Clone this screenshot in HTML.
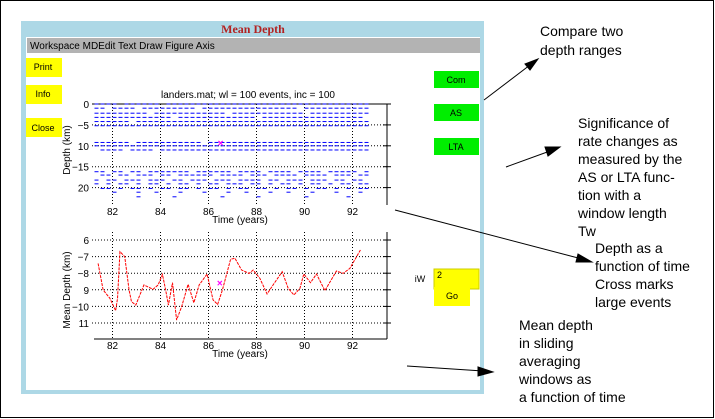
<!DOCTYPE html>
<html><head><meta charset="utf-8"><style>
body{margin:0;width:715px;height:419px;overflow:hidden;background:#fff;font-family:"Liberation Sans",sans-serif}
svg{display:block}
</style></head><body>
<svg id="s" width="715" height="419" viewBox="0 0 715 419" xmlns="http://www.w3.org/2000/svg" font-family="Liberation Sans, sans-serif">
<rect x="0.5" y="0.5" width="713" height="417" fill="#fff" stroke="#000"/>
<rect x="21" y="21" width="463" height="373" fill="#add8e6"/>
<rect x="26" y="37" width="454" height="353" fill="#fff"/>
<text x="253" y="33" text-anchor="middle" font-family="Liberation Serif, serif" font-weight="bold" font-size="12" fill="#b22222">Mean Depth</text>
<rect x="27" y="38" width="453" height="15" fill="#b3b3b3"/>
<text x="30" y="49" font-size="10" fill="#000">Workspace MDEdit Text Draw Figure Axis</text>
<g font-size="9" text-anchor="middle">
<rect x="26" y="58" width="36" height="19" fill="#ffff00"/><text x="43" y="70">Print</text>
<rect x="26" y="85" width="36" height="19" fill="#ffff00"/><text x="43" y="97">Info</text>
<rect x="26" y="118" width="36" height="19" fill="#ffff00"/><text x="43" y="131">Close</text>
<rect x="434" y="71" width="45" height="17" fill="#00ee00"/><text x="456" y="83">Com</text>
<rect x="434" y="104" width="45" height="17" fill="#00ee00"/><text x="456" y="116">AS</text>
<rect x="434" y="138" width="45" height="17" fill="#00ee00"/><text x="456" y="150">LTA</text>
<text x="420" y="282">iW</text>
<rect x="434" y="269" width="45" height="20" fill="#ffff00" stroke="#cc0"/><text x="437" y="278" text-anchor="start">2</text>
<rect x="434" y="287" width="36" height="19" fill="#ffff00"/><text x="452" y="299">Go</text>
</g>
<g id="topPlot"></g>
<g id="botPlot"></g>
<g stroke="#000" stroke-width="1" fill="#000" font-size="14">
<line x1="484" y1="100" x2="530" y2="65"/><polygon points="538,59 525,64 530,70"/>
<line x1="506" y1="167" x2="550" y2="151"/><polygon points="560,147 545,147 548,156"/>
<line x1="395" y1="210" x2="582" y2="259"/><polygon points="592,262 578,254 576,262"/>
<line x1="407" y1="366" x2="483" y2="371"/><polygon points="493,372 478,367 478,376"/>
</g>
<g font-size="14" fill="#000" stroke="none">
<text x="540" y="36"><tspan x="540">Compare two</tspan><tspan x="540" dy="19">depth ranges</tspan></text>
<text x="578" y="128"><tspan x="578">Significance of</tspan><tspan x="578" dy="18">rate changes as</tspan><tspan x="578" dy="18">measured by the</tspan><tspan x="578" dy="18">AS or LTA func-</tspan><tspan x="578" dy="18">tion with a</tspan><tspan x="578" dy="18">window length</tspan><tspan x="578" dy="18">Tw</tspan></text>
<text x="595" y="253"><tspan x="595">Depth as a</tspan><tspan x="595" dy="18">function of time</tspan><tspan x="595" dy="18">Cross marks</tspan><tspan x="595" dy="18">large events</tspan></text>
<text x="519" y="330"><tspan x="519">Mean depth</tspan><tspan x="519" dy="18">in sliding</tspan><tspan x="519" dy="18">averaging</tspan><tspan x="519" dy="18">windows as</tspan><tspan x="519" dy="18">a function of time</tspan></text>
</g>
</svg>
<script>
const xTicks=[82,84,86,88,90,92];
const xTickLabels=["82","84","86","88","90","92"];
const topYTicks=[0,5,10,15,20];
const topYTickLabels=["0","\u22125","10","\u221215","20"];
const botYTicks=[6,7,8,9,10,11];
const botYTickLabels=["6","\u22127","\u22128","9","\u221210","11"];
const rowDepths=[0,1,2.2,3.2,4.2,5.2,9.2,10,11,16.2,17,18.2,19.1,20.2,21.1,22.2];
const rowPatterns=[
"1111011111101111111111111111111111111111111111",
"1101111011111111101111111111111111011111111111",
"1111111110111111111111011111111111101111111111",
"1111111111111011111111111110111111111111111110",
"1111110111111111111111111111111111111111111111",
"1111111111111111111111111111111111111111111111",
"1111110111111111110111111111111111111111111111",
"1111111111111111111111111111111111111111111111",
"0111101111011111111111111111111111111111111111",
"1101101101111111011111101111011110111101111101",
"0110110111011011111101111011101111011110111011",
"1011011101110110111011101111011011101110110110",
"1010110101101011010110111011010110101101011011",
"0110101101011011010110101101101011010110101011",
"0001000100100010001000100100010010001000100010",
"0000000100000100000001000001000000010000001000"];
const meanYears=[81.40,81.61,81.89,82.13,82.21,82.31,82.51,82.69,82.79,82.97,83.31,83.69,83.90,84.08,84.22,84.33,84.50,84.67,84.88,85.15,85.39,85.61,85.94,86.19,86.38,86.58,86.92,87.10,87.38,87.69,87.86,88.14,88.44,88.69,89.07,89.32,89.56,89.81,89.97,90.25,90.50,90.85,91.33,91.61,91.89,92.33];
const meanDepths=[7.41,9.01,9.51,10.26,9.51,6.70,7.0,9.01,9.71,9.92,8.71,8.97,8.71,8.07,9.05,9.92,8.57,10.82,10.02,8.67,9.78,8.71,8.05,9.61,9.88,9.01,7.16,7.10,7.81,8.01,7.81,8.31,9.25,8.71,7.91,8.91,9.31,8.91,8.05,8.57,8.05,9.05,7.87,8.01,7.71,6.60];
const bigYear=[86.47];const bigDepth=[8.61];
const topBigYear=[86.5];const topBigDepth=[9.5];

const NS="http://www.w3.org/2000/svg";
function mk(p,t,a){const e=document.createElementNS(NS,t);for(const k in a)e.setAttribute(k,a[k]);p.appendChild(e);return e;}
const xs=y=>112.5+(y-82)*24;
const ty=d=>104+d*4.18;
const by=d=>240+(d-6)*16.6;

function axes(g,yMap,yT,yL,y0,y1,title,ylab,ylabY,hasBottom){
  const L=92,R=387;
  yT.forEach((v,i)=>{const y=yMap(v);
    const l=mk(g,'line',{x1:L,x2:R,y1:y,y2:y,stroke:'#000','stroke-dasharray':'1,2'});
    
    
    const t=mk(g,'text',{x:L-3,y:y+4,'text-anchor':'end','font-size':'10'});t.textContent=yL[i];
    
    
    const tk=mk(g,'line',{x1:R-4,x2:R+4,y1:y,y2:y,stroke:'#000'});
    
    
  });
  xTicks.forEach((v,i)=>{const x=xs(v);
    const l=mk(g,'line',{x1:x,x2:x,y1:y0,y2:y1,stroke:'#000','stroke-dasharray':'1,2'});
    
    
    const t=mk(g,'text',{x:x,y:y1+10,'text-anchor':'middle','font-size':'10'});t.textContent=xTickLabels[i];
    
    
  });
  const r=mk(g,'line',{x1:R,x2:R,y1:y0,y2:y1,stroke:'#000'});
  
  
  if(hasBottom){const b=mk(g,'line',{x1:L+2,x2:R,y1:y1,y2:y1,stroke:'#000'});
    
    }
  const xt=mk(g,'text',{x:240,y:y1+18,'text-anchor':'middle','font-size':'10'});xt.textContent='Time (years)';
  
  
  const yt=mk(g,'text',{x:0,y:0,'text-anchor':'middle','font-size':'10',transform:`translate(70,${ylabY}) rotate(-90)`});yt.textContent=ylab;
  
  
  if(title){const tt=mk(g,'text',{x:248,y:98,'text-anchor':'middle','font-size':'10'});tt.textContent=title;
    
    }
}
const topG=document.getElementById('topPlot');
axes(topG,ty,topYTicks,topYTickLabels,104,205,'landers.mat; wl = 100 events, inc = 100','Depth (km)',150,false);
const tl=mk(topG,'line',{x1:92,x2:387,y1:104,y2:104,stroke:'#000'});


rowDepths.forEach((d,r)=>{const p=rowPatterns[r];
  for(let i=0;i<p.length;i++){if(p[i]==='1'){const yr=81.25+i*0.25;
    const s=mk(topG,'line',{x1:xs(yr),x2:xs(yr)+4,y1:ty(d),y2:ty(d),stroke:'#0000ff','stroke-width':1});
    
    }}});
topBigYear.forEach((yr,i)=>{const t=mk(topG,'text',{x:xs(yr),y:ty(topBigDepth[i])+3,'text-anchor':'middle','font-size':'10',fill:'#ff00ff','font-weight':'bold'});t.textContent='×';
  
  });

const botG=document.getElementById('botPlot');
axes(botG,by,botYTicks,botYTickLabels,232,339,'','Mean Depth (km)',290,true);
const pl=mk(botG,'polyline',{points:meanYears.map((y,i)=>xs(y)+','+by(meanDepths[i])).join(' '),fill:'none',stroke:'#ff0000','stroke-dasharray':'3,1','stroke-width':1});


bigYear.forEach((yr,i)=>{const t=mk(botG,'text',{x:xs(yr),y:by(bigDepth[i])+3,'text-anchor':'middle','font-size':'10',fill:'#ff00ff','font-weight':'bold'});t.textContent='×';
  
  });
</script>
</body></html>
